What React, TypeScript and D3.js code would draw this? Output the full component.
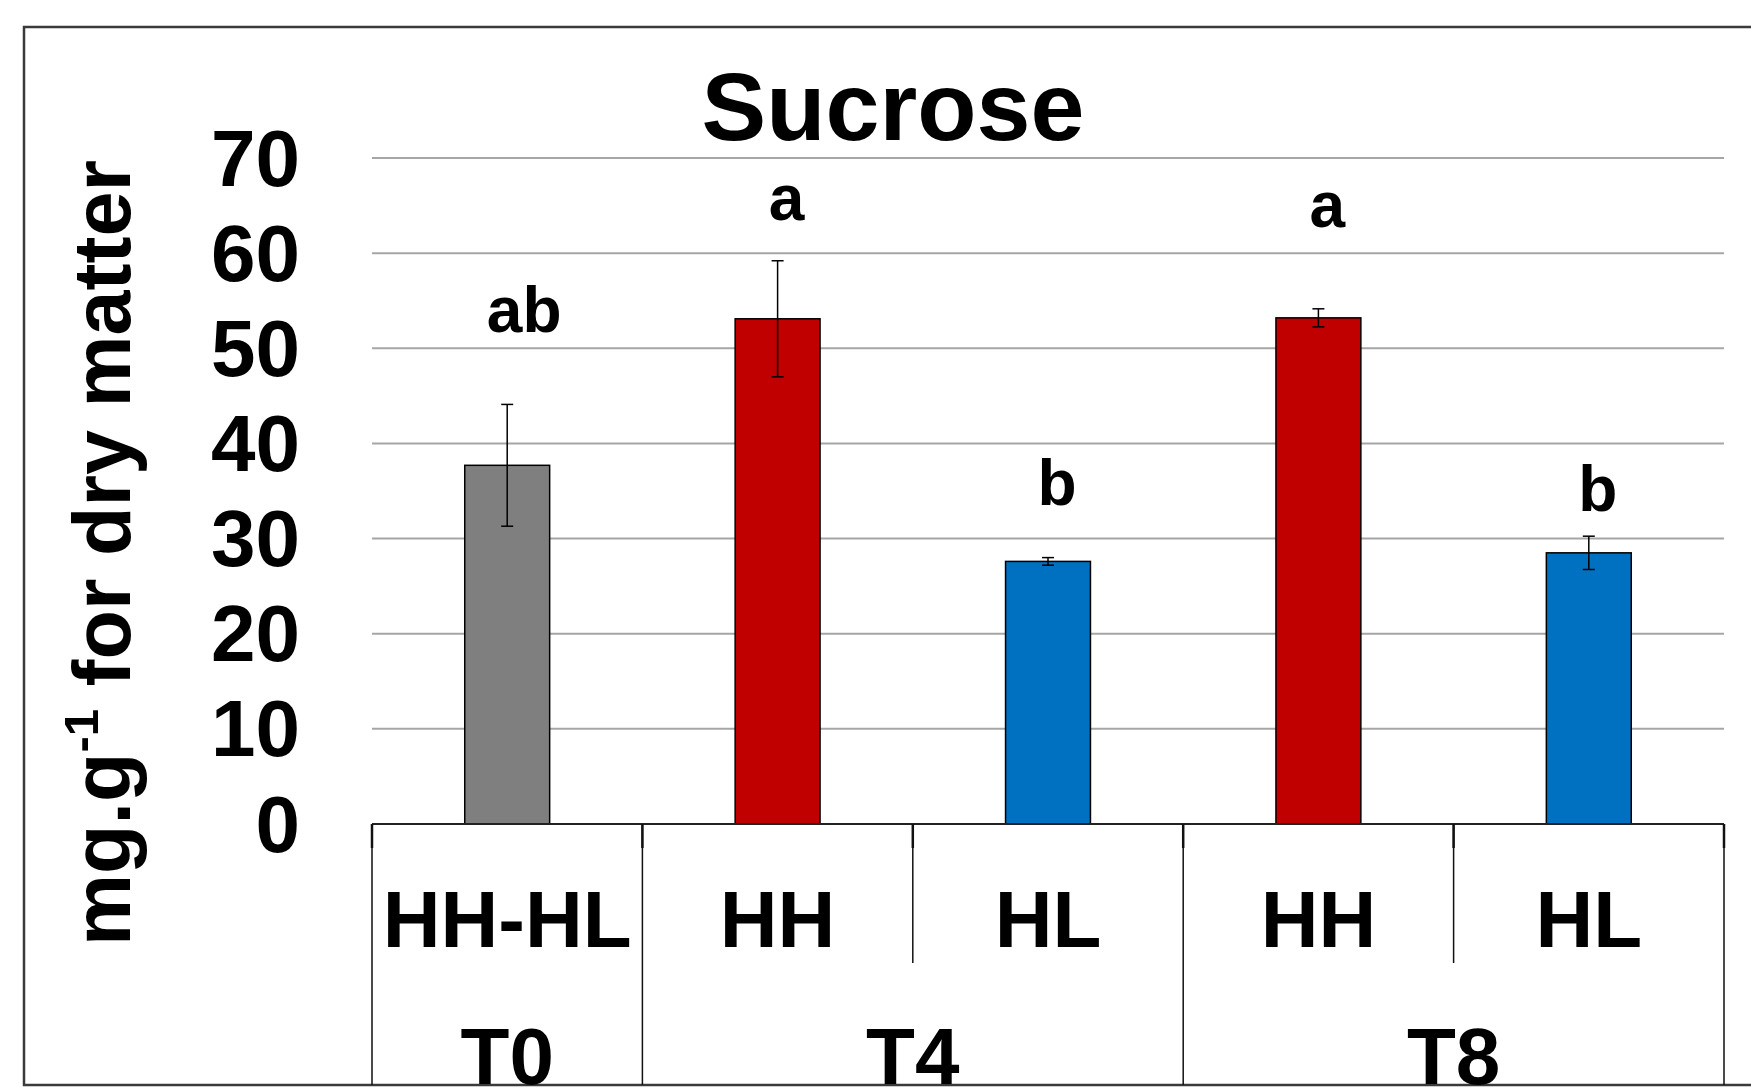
import React from 'react';
import * as d3 from 'd3';

// values (mg.g-1 dry matter)
const subLabels = ['HH-HL', 'HH', 'HL', 'HH', 'HL'];
const groupLabels = ['T0', 'T4', 'T8'];
const groupSizes = [1, 2, 2];
const means = [37.7, 53.1, 27.6, 53.2, 28.5];
const errors = [6.4, 6.1, 0.4, 0.95, 1.75];
const letters = ['ab', 'a', 'b', 'a', 'b'];
const letterLevels = [51.7, 63.5, 33.5, 62.7, 32.9];
const yTicks = [0, 10, 20, 30, 40, 50, 60, 70];

const colors: Record<string, string> = { 'HH-HL': '#7f7f7f', HH: '#c00000', HL: '#0070c0' };

const W = 1751;
const H = 1090;
const font = '"Liberation Sans", Arial, sans-serif';

const App = () => {
  const x = d3.scaleBand<number>()
    .domain(d3.range(subLabels.length))
    .range([372, 1724])
    .paddingInner(0)
    .paddingOuter(0);
  const y = d3.scaleLinear().domain([0, 70]).range([824, 158]);
  const bw = x.bandwidth() * 0.314;
  const axisBottom = 1085;
  const dividerBottom = 963;

  // group boundaries
  let acc = 0;
  const groups = groupLabels.map((g, i) => {
    const start = acc;
    acc += groupSizes[i];
    return { label: g, start, end: acc };
  });
  const xEdge = (i: number) => (i >= subLabels.length ? x.range()[1] : (x(i) as number));

  return (
    <svg width={W} height={H} style={{ position: 'absolute', left: 0, top: 0, background: '#fff' }}
      fontFamily={font} fontWeight="bold">
      <rect x={0} y={0} width={W} height={H} fill="#fff" />
      <rect x={24} y={27} width={1800} height={axisBottom - 27} fill="none" stroke="#3a3a3a" strokeWidth={2.5} />

      <text x={893} y={140} fontSize={97} textAnchor="middle">Sucrose</text>

      {/* gridlines */}
      {yTicks.filter(t => t > 0).map(t => (
        <line key={t} x1={372} x2={1724} y1={y(t)} y2={y(t)} stroke="#a6a6a6" strokeWidth={2} />
      ))}

      {/* y tick labels */}
      {yTicks.map(t => (
        <text key={t} x={300} y={y(t)} fontSize={80} textAnchor="end" dominantBaseline="central">{t}</text>
      ))}

      {/* y title */}
      <text transform={`translate(130, 553) rotate(-90)`} fontSize={81} textAnchor="middle">
        mg.g<tspan fontSize={49} dy={-32}>-1</tspan><tspan dy={32}> for dry matter</tspan>
      </text>

      {/* bars */}
      {means.map((m, i) => {
        const cx = (x(i) as number) + x.bandwidth() / 2;
        const lx = cx + 9 + (letters[i].length - 1) * 8;
        return (
          <g key={i}>
            <rect x={cx - bw / 2} y={y(m)} width={bw} height={y(0) - y(m)}
              fill={colors[subLabels[i]]} stroke="#000" strokeWidth={1.5} />
            <line x1={cx} x2={cx} y1={y(m + errors[i])} y2={y(m - errors[i])} stroke="#000" strokeWidth={1.5} />
            <line x1={cx - 6} x2={cx + 6} y1={y(m + errors[i])} y2={y(m + errors[i])} stroke="#000" strokeWidth={1.5} />
            <line x1={cx - 6} x2={cx + 6} y1={y(m - errors[i])} y2={y(m - errors[i])} stroke="#000" strokeWidth={1.5} />
            <text x={lx} y={y(letterLevels[i])} fontSize={64} textAnchor="middle">{letters[i]}</text>
          </g>
        );
      })}

      {/* category axis */}
      <line x1={372} x2={1724} y1={y(0)} y2={y(0)} stroke="#222" strokeWidth={2} />
      {d3.range(subLabels.length + 1).map(i => {
        const isGroupEdge = groups.some(g => g.start === i || g.end === i);
        return (
          <g key={i}>
            <line x1={xEdge(i)} x2={xEdge(i)} y1={y(0)} y2={isGroupEdge ? axisBottom : dividerBottom}
              stroke="#111" strokeWidth={1.5} />
            <line x1={xEdge(i)} x2={xEdge(i)} y1={y(0)} y2={y(0) + 24} stroke="#111" strokeWidth={2.5} />
          </g>
        );
      })}
      {subLabels.map((s, i) => (
        <text key={i} x={(x(i) as number) + x.bandwidth() / 2} y={947} fontSize={80} textAnchor="middle">{s}</text>
      ))}
      {groups.map(g => (
        <text key={g.label} x={(xEdge(g.start) + xEdge(g.end)) / 2} y={1084} fontSize={80} textAnchor="middle">{g.label}</text>
      ))}
    </svg>
  );
};

export default App;
